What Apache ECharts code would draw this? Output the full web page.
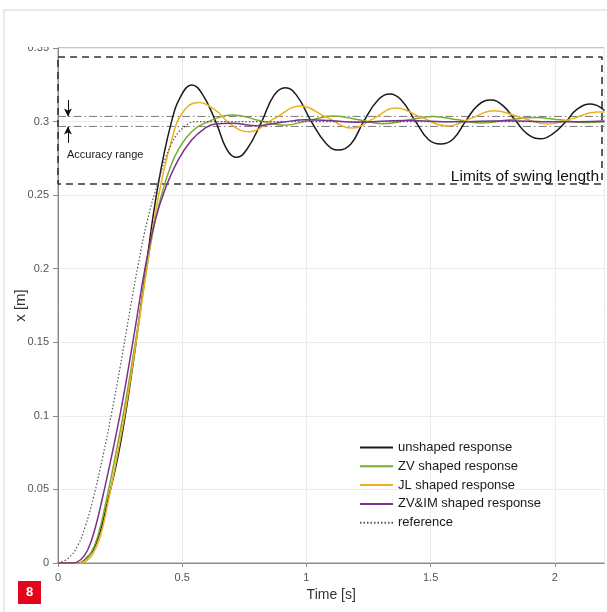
<!DOCTYPE html>
<html><head><meta charset="utf-8">
<script src="https://cdn.jsdelivr.net/npm/echarts@6/dist/echarts.min.js"></script>
<style>html,body{margin:0;padding:0;background:#fff;}#c{width:607px;height:612px;}</style>
</head><body><div id="c"></div>
<script>
// ---- data (time [s], position [m]) ----
const seriesNames = ['unshaped response', 'ZV shaped response', 'JL shaped response', 'ZV&IM shaped response', 'reference'];
const xTickLabels = [0, 0.5, 1, 1.5, 2];
const yTickLabels = [0, 0.05, 0.1, 0.15, 0.2, 0.25, 0.3, 0.35];

const unshaped = [[0,0],[0.08,0],[0.1,0.001],[0.15,0.012],[0.2,0.042],[0.25,0.08],[0.3,0.133],[0.35,0.195],[0.4,0.254],[0.457,0.3],[0.5,0.319],[0.538,0.3249],[0.58,0.319],[0.635,0.3],[0.68,0.281],[0.719,0.2757],[0.76,0.281],[0.82,0.3],[0.87,0.318],[0.915,0.323],[0.96,0.318],[1.02,0.3],[1.08,0.285],[1.129,0.2806],[1.18,0.285],[1.23,0.3],[1.29,0.315],[1.335,0.3187],[1.38,0.315],[1.44,0.3],[1.49,0.288],[1.54,0.2847],[1.59,0.288],[1.64,0.3],[1.69,0.311],[1.742,0.3146],[1.79,0.311],[1.845,0.3],[1.89,0.2915],[1.944,0.2883],[1.99,0.2915],[2.045,0.3],[2.09,0.3085],[2.145,0.3119],[2.2,0.3075]];
const zvShaped = [[0,0],[0.08,0],[0.1,0.001],[0.13,0.006],[0.16,0.018],[0.195,0.043],[0.23,0.072],[0.265,0.103],[0.3,0.138],[0.33,0.17],[0.36,0.203],[0.39,0.232],[0.42,0.252],[0.45,0.268],[0.484,0.2807],[0.538,0.2931],[0.605,0.2999],[0.706,0.3045],[0.81,0.3008],[0.91,0.2975],[1.01,0.3008],[1.11,0.3038],[1.21,0.3012],[1.31,0.2985],[1.41,0.301],[1.51,0.3034],[1.61,0.3012],[1.71,0.299],[1.81,0.301],[1.92,0.3028],[2.02,0.3012],[2.12,0.2993],[2.2,0.2998]];
const jlShaped = [[0,0],[0.09,0],[0.11,0.001],[0.14,0.006],[0.17,0.018],[0.2,0.04],[0.235,0.07],[0.27,0.102],[0.3,0.134],[0.33,0.168],[0.36,0.204],[0.39,0.236],[0.42,0.262],[0.457,0.287],[0.497,0.305],[0.565,0.3129],[0.632,0.3079],[0.699,0.2977],[0.766,0.2931],[0.87,0.302],[0.976,0.3105],[1.08,0.303],[1.185,0.2956],[1.27,0.302],[1.36,0.3092],[1.46,0.303],[1.568,0.297],[1.66,0.302],[1.755,0.3073],[1.86,0.303],[1.97,0.2983],[2.07,0.302],[2.17,0.3065],[2.2,0.3065]];
const zvimShaped = [[0,0],[0.06,0],[0.09,0.002],[0.12,0.009],[0.15,0.024],[0.18,0.045],[0.215,0.072],[0.25,0.101],[0.28,0.129],[0.31,0.159],[0.35,0.2],[0.39,0.232],[0.43,0.2535],[0.484,0.2739],[0.538,0.2875],[0.591,0.2954],[0.632,0.2983],[0.7,0.2988],[0.8,0.2972],[0.9,0.2995],[1.0,0.3012],[1.1,0.3005],[1.2,0.2995],[1.4,0.3008],[1.6,0.2998],[1.8,0.3006],[2.0,0.2998],[2.2,0.3004]];
const reference = [[0,0],[0.04,0.003],[0.08,0.012],[0.11,0.025],[0.142,0.044],[0.18,0.072],[0.216,0.102],[0.25,0.133],[0.29,0.172],[0.323,0.203],[0.36,0.233],[0.4,0.257],[0.456,0.2845],[0.511,0.2968],[0.56,0.3],[2.2,0.3]];

const swingLimits = [0.2576, 0.3439];      // limits of swing length [m]
const accuracyBand = [0.2967, 0.3035];     // accuracy range [m]
const timeRange = [0, 2.2];

// ---- chart ----
const chart = echarts.init(document.getElementById('c'), null, {renderer: 'canvas'});
const FONT = '"Liberation Sans", Arial, Helvetica, sans-serif';
const colors = ['#1a1a1a', '#77ac30', '#edb120', '#7e2f8e', '#555555'];
const datasets = [unshaped, zvShaped, jlShaped, zvimShaped, reference];

const series = datasets.map((d, i) => ({
  name: seriesNames[i],
  type: 'line',
  data: d,
  showSymbol: false,
  symbol: 'none',
  smooth: 0.45,
  z: 5 + i,
  lineStyle: {color: colors[i], width: i === 4 ? 1.2 : 1.5, type: i === 4 ? [1.5, 2] : 'solid'},
  itemStyle: {color: colors[i]},
  emphasis: {disabled: true}
}));

// dashed limits box
series.push({
  name: 'limits', type: 'line', symbol: 'none', z: 3, silent: true,
  data: [[timeRange[0], swingLimits[1]], [2.19, swingLimits[1]], [2.19, swingLimits[0]], [timeRange[0], swingLimits[0]], [timeRange[0], swingLimits[1]]],
  lineStyle: {color: '#333', width: 1.6, type: [7, 5]}
});
// accuracy range lines
accuracyBand.forEach((v, k) => {
  series.push({
    name: 'acc' + k, type: 'line', symbol: 'none', z: 3, silent: true,
    data: [[timeRange[0], v], [timeRange[1], v]],
    lineStyle: {color: '#777', width: 1, type: [8, 3, 1.5, 3]},
    markLine: {
      silent: true, symbol: ['none', 'arrow'], symbolSize: [6, 8],
      label: {show: false},
      lineStyle: {color: '#111', width: 1, type: 'solid'},
      data: [[{coord: [0.04, k === 1 ? 0.3147 : 0.2855]}, {coord: [0.04, v]}]]
    }
  });
});

chart.setOption({
  animation: false,
  backgroundColor: '#fff',
  textStyle: {fontFamily: FONT},
  grid: {left: 58, top: 48, width: 546.5, height: 515, show: true, borderColor: '#8c8c8c', borderWidth: 1, containLabel: false, outerBoundsMode: 'none'},
  legend: {
    data: seriesNames, orient: 'vertical', left: 359, top: 441, padding: 0,
    itemWidth: 33, itemHeight: 12, itemGap: 5.8,
    itemStyle: {opacity: 0, color: 'transparent', borderWidth: 0},
    textStyle: {fontSize: 13, color: '#1a1a1a', fontFamily: FONT},
    selectedMode: false
  },
  xAxis: {
    type: 'value', min: timeRange[0], max: timeRange[1], interval: xTickLabels[1] - xTickLabels[0],
    name: 'Time [s]', nameLocation: 'middle', nameGap: 25, nameMoveOverlap: false,
    nameTextStyle: {fontSize: 14, color: '#333'},
    axisLine: {show: true, lineStyle: {color: '#8c8c8c'}},
    axisTick: {show: true, length: 4, lineStyle: {color: '#8c8c8c'}},
    axisLabel: {color: '#555', fontSize: 11, margin: 9, showMaxLabel: false,
      formatter: v => xTickLabels.includes(+v.toFixed(2)) ? String(+v.toFixed(2)) : ''},
    splitLine: {show: true, lineStyle: {color: '#ececec'}}
  },
  yAxis: {
    type: 'value', min: 0, max: yTickLabels[yTickLabels.length - 1], interval: yTickLabels[1] - yTickLabels[0],
    name: 'x [m]', nameLocation: 'middle', nameGap: 30, nameMoveOverlap: false,
    nameTextStyle: {fontSize: 15, color: '#333'},
    axisLine: {show: true, lineStyle: {color: '#8c8c8c'}},
    axisTick: {show: true, length: 5, lineStyle: {color: '#8c8c8c'}},
    axisLabel: {color: '#555', fontSize: 11, margin: 9, formatter: v => String(+v.toFixed(2))},
    splitLine: {show: true, lineStyle: {color: '#ececec'}}
  },
  series: series,
  graphic: [
    {type: 'rect', shape: {x: 15, y: 20, width: 40, height: 27}, style: {fill: '#fff'}, z: 100},
    {type: 'polyline', shape: {points: [[4, 612], [4, 10], [607, 10]]}, style: {stroke: '#dbe5f3', lineWidth: 1.5, fill: null}, z: 101},
    {type: 'text', left: 67, top: 149, style: {text: 'Accuracy range', fontSize: 11, fill: '#1a1a1a', fontFamily: FONT}, z: 100},
    {type: 'text', right: 8, top: 169, style: {text: 'Limits of swing length', fontSize: 15.5, fill: '#111', fontFamily: FONT}, z: 100},
    {type: 'rect', shape: {x: 18, y: 581, width: 23, height: 23}, style: {fill: '#e3051b'}, z: 100},
    {type: 'text', x: 29.5, y: 592.5, style: {text: '8', fontSize: 13, fontWeight: 'bold', fill: '#fff', align: 'center', verticalAlign: 'middle', fontFamily: FONT}, z: 101}
  ]
});
</script></body></html>
